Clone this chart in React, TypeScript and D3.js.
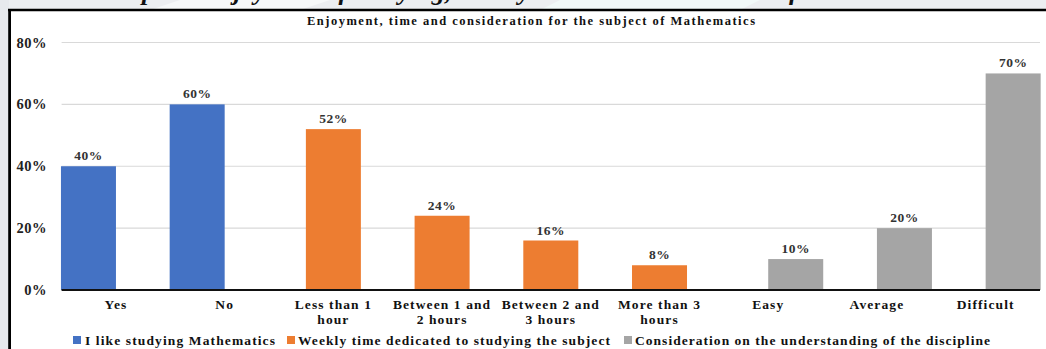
import React from "react";
import * as d3 from "d3";

const categories = ["Yes", "No", "Less than 1 hour", "Between 1 and 2 hours", "Between 2 and 3 hours", "More than 3 hours", "Easy", "Average", "Difficult"];
const categoryLines = [["Yes"], ["No"], ["Less than 1", "hour"], ["Between 1 and", "2 hours"], ["Between 2 and", "3 hours"], ["More than 3", "hours"], ["Easy"], ["Average"], ["Difficult"]];
const seriesNames = ["I like studying Mathematics", "Weekly time dedicated to studying the subject", "Consideration on the understanding of the discipline"];
const likeValues = [40, 60, null, null, null, null, null, null, null];
const weeklyValues = [null, null, 52, 24, 16, 8, null, null, null];
const considerationValues = [null, null, null, null, null, null, 10, 20, 70];
const yTicks = [0, 20, 40, 60, 80];
const chartTitle = "Enjoyment, time and consideration for the subject of Mathematics";
const heading = "Graph 1. Enjoyment of studying, weekly time and consideration for Mathematics";

const colors = ["#4472C4", "#ED7D31", "#A5A5A5"];
const FONT = "'Liberation Serif', 'Times New Roman', serif";

export default function App() {
  const W = 1046, H = 349;
  const x = d3.scaleBand<string>().domain(categories).range([61.6, 1040]).padding(0);
  const y = d3.scaleLinear().domain([0, 80]).range([290, 42.5]);
  const barW = 55;
  const offsets = [-27.5, 0, 27.5];
  const series = [likeValues, weeklyValues, considerationValues];

  const legendItems = [
    { sq: 73, tx: 85, len: 190 },
    { sq: 287, tx: 298, len: 312 },
    { sq: 624, tx: 635, len: 355 },
  ];

  return (
    <svg width={W} height={H} style={{ position: "absolute", left: 0, top: 0, display: "block" }} fontFamily={FONT}>
      <rect x={0} y={0} width={W} height={H} fill="#ffffff" />
      <rect x={0} y={0} width={W} height={10} fill="#eceef1" />
      <rect x={0} y={0} width={9} height={H} fill="#e7e9ed" />
      <polygon points="180,0 330,0 300,10 150,10" fill="#f6f8f9" />
      <polygon points="560,0 760,0 740,10 540,10" fill="#f1f8f8" />
      <text x={100} y={0} fontSize={26} fontWeight="bold" fontStyle="italic" fill="#111" textLength={866} lengthAdjust="spacingAndGlyphs">{heading}</text>
      <line x1={8} x2={W} y1={10} y2={10} stroke="#000" strokeWidth={2.6} />
      <line x1={9.6} x2={9.6} y1={9} y2={H} stroke="#000" strokeWidth={2.8} />

      <text x={531} y={25} fontSize={12.5} fontWeight="bold" textAnchor="middle" fill="#111" textLength={448} lengthAdjust="spacing">{chartTitle}</text>

      {yTicks.map((t) => (
        <g key={t}>
          {t > 0 && <line x1={61.6} x2={1040} y1={y(t)} y2={y(t)} stroke="#d9d9d9" strokeWidth={1.2} />}
          <text x={47} y={y(t) + 5} fontSize={14.5} fontWeight="bold" textAnchor="end" fill="#222" letterSpacing={0.5}>{t}%</text>
        </g>
      ))}

      {series.map((vals, si) =>
        vals.map((v, ci) => {
          if (v == null) return null;
          const cx = (x(categories[ci]) as number) + x.bandwidth() / 2 + offsets[si];
          return (
            <g key={`${si}-${ci}`}>
              <rect x={cx - barW / 2} y={y(v)} width={barW} height={y(0) - y(v)} fill={colors[si]} />
              <text x={cx} y={y(v) - 6} fontSize={13.5} fontWeight="bold" textAnchor="middle" fill="#333" letterSpacing={0.5}>{v}%</text>
            </g>
          );
        })
      )}

      <line x1={61.6} x2={1040} y1={y(0)} y2={y(0)} stroke="#111" strokeWidth={2} />

      {categoryLines.map((lines, ci) => {
        const cx = (x(categories[ci]) as number) + x.bandwidth() / 2;
        return (
          <text key={ci} x={cx} y={308.5} fontSize={13.5} fontWeight="bold" textAnchor="middle" fill="#111" letterSpacing={1.1}>
            {lines.map((l, li) => (
              <tspan key={li} x={cx} dy={li === 0 ? 0 : 15}>{l}</tspan>
            ))}
          </text>
        );
      })}

      {seriesNames.map((name, si) => (
        <g key={name}>
          <rect x={legendItems[si].sq} y={336} width={8} height={8} fill={colors[si]} />
          <text x={legendItems[si].tx} y={344.5} fontSize={13.5} fontWeight="bold" fill="#111" textLength={legendItems[si].len} lengthAdjust="spacing">{name}</text>
        </g>
      ))}
    </svg>
  );
}
